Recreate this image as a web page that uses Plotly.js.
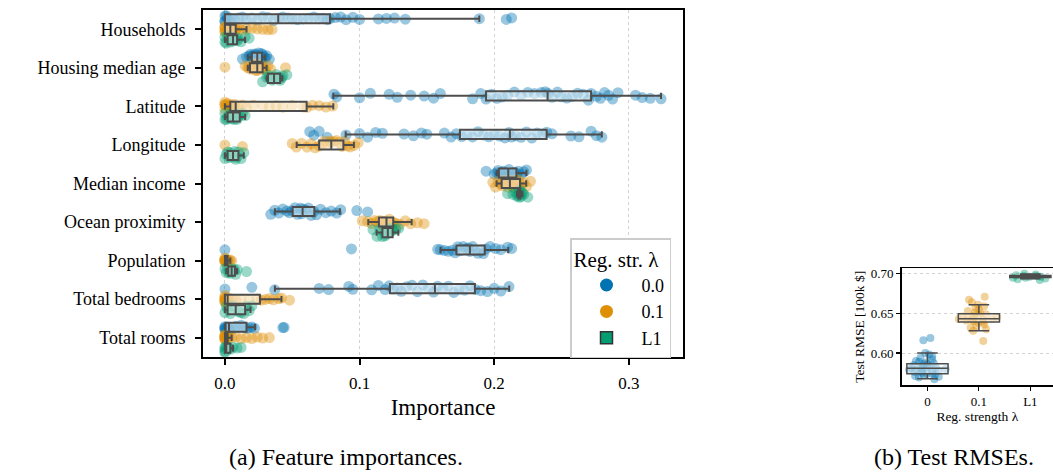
<!DOCTYPE html>
<html><head><meta charset="utf-8">
<script src="https://cdn.plot.ly/plotly-3.0.1.min.js"></script>
<style>html,body{margin:0;padding:0;overflow:hidden;background:#fff}</style>
</head><body><div id="chart" style="width:1053px;height:476px"></div>
<script>
// ---------- data ----------
const features = ["Households","Housing median age","Latitude","Longitude","Median income","Ocean proximity","Population","Total bedrooms","Total rooms"];
const groups = ["0.0","0.1","L1"];
const colors = ["#0173b2","#de8f05","#029e73"];

// box statistics per group (same order as features)
const lf0 = [0.0,0.017,0.0805,0.0897,0.2018,0.0371,0.1602,0.0371,0.0];
const q10 = [0.0,0.020,0.194,0.1746,0.2035,0.0503,0.172,0.1226,0.0005];
const md0 = [0.0396,0.024,0.2397,0.2117,0.2105,0.0577,0.182,0.156,0.003];
const q30 = [0.078,0.0275,0.272,0.239,0.2165,0.0664,0.193,0.1857,0.016];
const uf0 = [0.189,0.030,0.324,0.280,0.224,0.0854,0.2105,0.2112,0.0223];

const lf1 = [0.0,0.017,0.0,0.0533,0.2018,0.1065,0.0,0.0,0.0];
const q11 = [0.0,0.0186,0.004,0.070,0.2056,0.1144,0.0,0.0,0.0];
const md1 = [0.004,0.024,0.008,0.079,0.2117,0.120,0.001,0.002,0.0];
const q31 = [0.008,0.028,0.0607,0.088,0.2192,0.125,0.002,0.026,0.002];
const uf1 = [0.016,0.031,0.0805,0.0958,0.2238,0.1387,0.004,0.042,0.005];

const lf2 = [0.0,0.031,0.0,0.0,0.217,0.1127,0.001,0.0,0.0];
const q12 = [0.002,0.032,0.002,0.002,0.218,0.117,0.0025,0.002,0.0];
const md2 = [0.006,0.0365,0.006,0.006,0.219,0.121,0.005,0.008,0.001];
const q32 = [0.009,0.041,0.011,0.010,0.2195,0.1246,0.0074,0.015,0.004];
const uf2 = [0.015,0.0426,0.015,0.014,0.221,0.1288,0.009,0.019,0.006];

// individual importances per group, one list per feature
const pts0 = [
 [0,0,0,0.001,0.002,0.003,0.005,0.007,0.01,0.013,0.016,0.02,0.024,0.028,0.032,0.036,0.04,0.043,0.047,0.05,0.054,0.058,0.062,0.066,0.07,0.073,0.076,0.078,0.082,0.086,0.09,0.095,0.1,0.114,0.12,0.126,0.134,0.189,0.209,0.213],
 [0.013,0.016,0.018,0.019,0.02,0.021,0.021,0.022,0.023,0.023,0.024,0.024,0.025,0.025,0.026,0.027,0.027,0.028,0.029,0.03,0.031,0.033],
 [0.081,0.083,0.1,0.108,0.122,0.128,0.138,0.148,0.155,0.16,0.184,0.19,0.194,0.198,0.202,0.206,0.21,0.215,0.22,0.225,0.23,0.235,0.238,0.24,0.243,0.247,0.25,0.254,0.258,0.262,0.266,0.27,0.272,0.276,0.279,0.282,0.285,0.288,0.292,0.305,0.31,0.316,0.324],
 [0.063,0.066,0.07,0.076,0.09,0.1,0.106,0.112,0.117,0.133,0.14,0.146,0.15,0.163,0.168,0.172,0.176,0.18,0.184,0.188,0.192,0.196,0.2,0.204,0.208,0.211,0.213,0.216,0.22,0.224,0.228,0.232,0.236,0.239,0.243,0.257,0.263,0.272,0.276,0.28],
 [0.194,0.2,0.202,0.203,0.204,0.205,0.206,0.207,0.208,0.209,0.21,0.211,0.211,0.212,0.213,0.214,0.215,0.216,0.217,0.218,0.22,0.222,0.224],
 [0.034,0.037,0.04,0.043,0.046,0.048,0.05,0.052,0.054,0.056,0.057,0.058,0.06,0.062,0.064,0.066,0.068,0.071,0.075,0.079,0.083,0.086,0.098,0.106],
 [0,0.094,0.158,0.16,0.163,0.166,0.169,0.171,0.173,0.175,0.177,0.179,0.181,0.182,0.184,0.186,0.188,0.19,0.192,0.194,0.197,0.201,0.205,0.21,0.213],
 [0,0.02,0.037,0.07,0.077,0.092,0.095,0.109,0.114,0.119,0.122,0.125,0.128,0.131,0.135,0.139,0.143,0.147,0.151,0.155,0.158,0.162,0.166,0.17,0.174,0.178,0.182,0.186,0.19,0.195,0.2,0.205,0.211],
 [0,0,0,0,0.001,0.002,0.003,0.004,0.006,0.008,0.01,0.012,0.014,0.016,0.018,0.02,0.022,0.043,0.044]
];
const pts1 = [
 [0,0,0,0,0,0.001,0.002,0.003,0.004,0.005,0.006,0.007,0.008,0.009,0.011,0.013,0.016,0.02,0.024,0.028,0.032,0.035],
 [0,0.015,0.017,0.018,0.019,0.02,0.021,0.022,0.023,0.024,0.024,0.025,0.026,0.027,0.028,0.029,0.03,0.032,0.034,0.045],
 [0,0,0,0,0.001,0.002,0.003,0.004,0.005,0.006,0.007,0.008,0.01,0.013,0.016,0.021,0.028,0.033,0.038,0.043,0.05,0.058,0.061,0.065,0.07,0.075,0.08],
 [0,0.013,0.05,0.053,0.057,0.061,0.064,0.067,0.07,0.072,0.074,0.076,0.078,0.079,0.081,0.083,0.085,0.087,0.089,0.091,0.093,0.096,0.099],
 [0.199,0.201,0.203,0.205,0.206,0.207,0.208,0.21,0.211,0.212,0.213,0.214,0.215,0.216,0.217,0.218,0.219,0.22,0.222,0.224,0.227],
 [0.102,0.106,0.109,0.111,0.113,0.115,0.117,0.118,0.119,0.12,0.121,0.122,0.123,0.124,0.125,0.127,0.13,0.134,0.138,0.143,0.148],
 [0,0,0,0,0,0,0.001,0.001,0.002,0.002,0.003,0.004,0.005],
 [0,0,0,0,0,0,0,0.001,0.002,0.003,0.005,0.008,0.012,0.018,0.024,0.027,0.03,0.033,0.036,0.04,0.042,0.048],
 [0,0,0,0,0,0,0,0,0.001,0.002,0.003,0.005,0.008,0.012,0.016,0.02,0.024,0.028,0.033]
];
const pts2 = [
 [0,0,0.001,0.002,0.003,0.004,0.005,0.006,0.007,0.008,0.009,0.01,0.012,0.015,0.018],
 [0.028,0.031,0.032,0.033,0.034,0.035,0.036,0.037,0.038,0.039,0.04,0.041,0.042,0.043,0.046],
 [0,0,0.001,0.002,0.003,0.004,0.005,0.006,0.007,0.008,0.009,0.01,0.011,0.013,0.015],
 [0,0.001,0.002,0.003,0.004,0.005,0.006,0.007,0.008,0.009,0.01,0.012,0.014],
 [0.21,0.214,0.216,0.217,0.218,0.218,0.219,0.219,0.22,0.22,0.221,0.222,0.225],
 [0.11,0.113,0.115,0.117,0.118,0.119,0.12,0.121,0.122,0.123,0.124,0.125,0.127,0.129],
 [0,0.001,0.002,0.003,0.004,0.005,0.006,0.007,0.008,0.009,0.016],
 [0,0.001,0.002,0.004,0.006,0.008,0.01,0.012,0.014,0.016,0.018,0.02],
 [0,0,0,0,0.001,0.002,0.003,0.004,0.006,0.009,0.012]
];

// right panel: test RMSE
const rmseCats = ["0","0.1","L1"];
const rmse0 = [0.567,0.569,0.57,0.571,0.572,0.573,0.574,0.574,0.575,0.576,0.577,0.577,0.578,0.579,0.579,0.58,0.58,0.581,0.581,0.582,0.582,0.583,0.584,0.585,0.586,0.586,0.587,0.588,0.589,0.59,0.592,0.594,0.596,0.598,0.6,0.616,0.619];
const rmse1 = [0.615,0.628,0.63,0.632,0.634,0.636,0.638,0.639,0.64,0.641,0.642,0.642,0.643,0.643,0.644,0.645,0.645,0.646,0.647,0.648,0.649,0.65,0.651,0.653,0.655,0.657,0.659,0.661,0.664,0.667,0.671];
const rmse2 = [0.692,0.693,0.694,0.695,0.695,0.696,0.696,0.697,0.697,0.698,0.699,0.7];
const rmseLf = [0.5674,0.628,0.6935];
const rmseQ1 = [0.574,0.639,0.6952];
const rmseMd = [0.5807,0.6432,0.6965];
const rmseQ3 = [0.5866,0.6495,0.6978];
const rmseUf = [0.600,0.661,0.6995];

// ---------- traces ----------
const FONT = "Liberation Serif, Times New Roman, serif";
const BOXLINE = "#4d4d4d";
const BOXFILL = "rgba(255,255,255,0.5)";
const traces = [];
const allPts = [pts0, pts1, pts2];
const stats = [[lf0,q10,md0,q30,uf0],[lf1,q11,md1,q31,uf1],[lf2,q12,md2,q32,uf2]];

allPts.forEach((pts, g) => {
  const xs = [], ys = [];
  pts.forEach((arr, i) => arr.forEach(v => { xs.push(v); ys.push(features[i]); }));
  traces.push({
    type: "box", orientation: "h", x: xs, y: ys, name: groups[g],
    offsetgroup: "g" + g, alignmentgroup: "left",
    boxpoints: "all", jitter: 1, pointpos: 0,
    line: {width: 0, color: "rgba(0,0,0,0)"}, fillcolor: "rgba(0,0,0,0)",
    marker: {color: colors[g], size: 11, opacity: 0.4, line: {width: 0}},
    showlegend: false, hoverinfo: "x"
  });
});
stats.forEach((s, g) => {
  traces.push({
    type: "box", orientation: "h", y: features, name: groups[g],
    lowerfence: s[0], q1: s[1], median: s[2], q3: s[3], upperfence: s[4],
    offsetgroup: "g" + g, alignmentgroup: "left",
    boxpoints: false, whiskerwidth: 0.7,
    line: {color: BOXLINE, width: 2}, fillcolor: BOXFILL,
    showlegend: false
  });
});

// right panel
[rmse0, rmse1, rmse2].forEach((arr, g) => {
  traces.push({
    type: "box", x: arr.map(() => rmseCats[g]), y: arr, xaxis: "x2", yaxis: "y2",
    offsetgroup: "r", alignmentgroup: "right", width: 0.8,
    boxpoints: "all", jitter: 1, pointpos: 0,
    line: {width: 0, color: "rgba(0,0,0,0)"}, fillcolor: "rgba(0,0,0,0)",
    marker: {color: colors[g], size: 8, opacity: 0.4, line: {width: 0}},
    showlegend: false, hoverinfo: "y"
  });
});
traces.push({
  type: "box", x: rmseCats, xaxis: "x2", yaxis: "y2",
  lowerfence: rmseLf, q1: rmseQ1, median: rmseMd, q3: rmseQ3, upperfence: rmseUf,
  offsetgroup: "r", alignmentgroup: "right", width: 0.8,
  boxpoints: false, whiskerwidth: 0.5,
  line: {color: BOXLINE, width: 1.5}, fillcolor: BOXFILL, showlegend: false
});

// legend entries
traces.push({type: "scatter", mode: "markers", x: [null], y: [null], xaxis: "x2", yaxis: "y2",
  name: groups[0], marker: {color: colors[0], size: 13}, showlegend: true});
traces.push({type: "scatter", mode: "markers", x: [null], y: [null], xaxis: "x2", yaxis: "y2",
  name: groups[1], marker: {color: colors[1], size: 13}, showlegend: true});
traces.push({type: "bar", x: [null], y: [null], xaxis: "x2", yaxis: "y2",
  name: groups[2], marker: {color: colors[2], line: {color: "#333", width: 1.5}}, showlegend: true});

const W = 1053, H = 476;
const layout = {
  width: W, height: H, autosize: false,
  margin: {l: 0, r: 0, t: 0, b: 0},
  paper_bgcolor: "#fff", plot_bgcolor: "#fff",
  font: {family: FONT, color: "#000", size: 18},
  boxmode: "group", boxgap: 0.18, boxgroupgap: 0.14,
  showlegend: true,
  xaxis: {
    domain: [203/W, 683/W], range: [-0.0163, 0.3403],
    tickvals: [0, 0.1, 0.2, 0.3], tickformat: ".1f",
    showgrid: true, gridcolor: "#d2d2d2", griddash: "dot", gridwidth: 1,
    zeroline: false, showline: true, mirror: true, linecolor: "#000", linewidth: 2,
    ticks: "outside", ticklen: 6, tickwidth: 2, tickcolor: "#000",
    ticklabelstandoff: 4,
    tickfont: {size: 17, family: FONT},
    title: {text: "Importance", font: {size: 23, family: FONT}, standoff: 6}
  },
  yaxis: {
    domain: [1 - 357/H, 1 - 10/H], type: "category",
    categoryorder: "array", categoryarray: features, range: [8.5, -0.5],
    showgrid: false, zeroline: false, showline: true, mirror: true, linecolor: "#000", linewidth: 2,
    ticks: "outside", ticklen: 6, tickwidth: 2, tickcolor: "#000",
    ticklabelstandoff: 6,
    tickfont: {size: 18, family: FONT}
  },
  xaxis2: {
    domain: [901.7/W, 1], range: [-0.5, 2.44], type: "category",
    categoryorder: "array", categoryarray: rmseCats, anchor: "y2",
    showgrid: false, zeroline: false, showline: true, mirror: true, linecolor: "#000", linewidth: 1.5,
    ticks: "outside", ticklen: 4, tickwidth: 1.2, tickcolor: "#000",
    tickfont: {size: 13, family: FONT},
    title: {text: "Reg. strength λ", font: {size: 13.5, family: FONT}, standoff: 0}
  },
  yaxis2: {
    domain: [1 - 385.3/H, 1 - 268.3/H], range: [0.5593, 0.7068], anchor: "x2",
    tickvals: [0.60, 0.65, 0.70], tickformat: ".2f",
    showgrid: true, gridcolor: "#d2d2d2", griddash: "dot", gridwidth: 1,
    zeroline: false, showline: true, mirror: true, linecolor: "#000", linewidth: 1.5,
    ticks: "outside", ticklen: 4, tickwidth: 1.2, tickcolor: "#000",
    tickfont: {size: 13, family: FONT},
    title: {text: "Test RMSE [100k $]", font: {size: 13.5, family: FONT}, standoff: 3}
  },
  legend: {
    x: 570/W, y: 1 - 238/H, xanchor: "left", yanchor: "top",
    bgcolor: "#fff", bordercolor: "#cccccc", borderwidth: 1.5,
    font: {size: 18, family: FONT}, itemwidth: 60,
    title: {text: "Reg. str. λ", font: {size: 21, family: FONT}},
    traceorder: "normal"
  },
  annotations: [
    {text: "(a) Feature importances.", xref: "paper", yref: "paper", x: 346/W, y: 1 - 457/H,
     xanchor: "center", yanchor: "middle", showarrow: false, font: {size: 24, family: FONT}},
    {text: "(b) Test RMSEs.", xref: "paper", yref: "paper", x: 954/W, y: 1 - 457/H,
     xanchor: "center", yanchor: "middle", showarrow: false, font: {size: 24, family: FONT}}
  ]
};
Plotly.newPlot("chart", traces, layout, {staticPlot: true, displayModeBar: false});
</script></body></html>
